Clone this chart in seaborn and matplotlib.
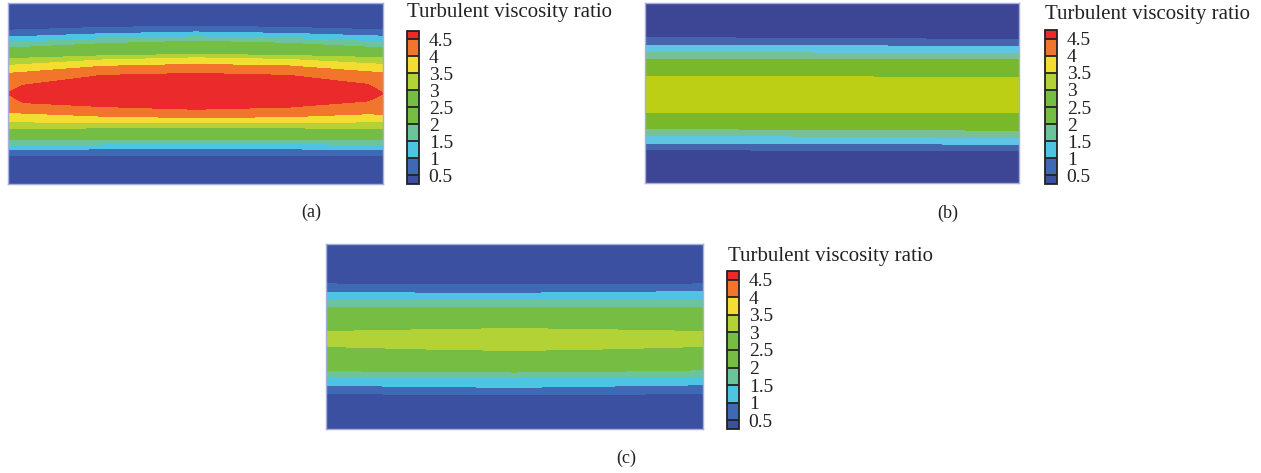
import numpy as np
import matplotlib
matplotlib.use("Agg")
import matplotlib.pyplot as plt
import seaborn as sns
from matplotlib.colors import ListedColormap, BoundaryNorm
from matplotlib.cm import ScalarMappable

sns.set_style("white")
plt.rcParams["font.family"] = ["Liberation Serif", "DejaVu Serif"]

# Legend levels of the turbulent viscosity ratio
levels = [0.5, 1.0, 1.5, 2.0, 2.5, 3.0, 3.5, 4.0, 4.5]
level_labels = ["0.5", "1", "1.5", "2", "2.5", "3", "3.5", "4", "4.5"]
legend_bounds = [0.25] + levels + [4.75]
fill_levels = [0.0] + levels + [5.0]

band_colors = sns.color_palette(["#3b50a0", "#3f69b5", "#4dc4e1", "#6cc49b", "#76bd43",
                                 "#76bd43", "#b2d236", "#f3dd30", "#f1762b", "#ea2a2b"])
band_colors_b = sns.color_palette(["#3d4595", "#4565ad", "#5cc6e3", "#78c194", "#78b82a",
                                   "#78b82a", "#bccf14", "#f3dd30", "#f1762b", "#ea2a2b"])

# ---- case (a): ratio values across the channel (top wall -> bottom wall)
profile_a = [0.2, 0.5, 1.0, 1.5, 2.0, 2.5, 3.0, 3.5, 4.0, 4.5, 4.8,
             4.5, 4.0, 3.5, 3.0, 2.5, 2.0, 1.5, 1.0, 0.5, 0.2]
stations_a = [0.0, 0.04, 0.25, 0.5, 0.75, 0.96, 1.0]
# depth (0 = top wall, 1 = bottom wall) of each profile value at each station
depth_a = [
    [0.000, 0.000, 0.000, 0.000, 0.000, 0.000, 0.000],
    [0.150, 0.148, 0.135, 0.128, 0.135, 0.146, 0.147],
    [0.187, 0.185, 0.170, 0.160, 0.168, 0.181, 0.183],
    [0.217, 0.215, 0.198, 0.187, 0.196, 0.212, 0.215],
    [0.248, 0.245, 0.225, 0.211, 0.223, 0.244, 0.248],
    [0.278, 0.275, 0.258, 0.248, 0.256, 0.272, 0.275],
    [0.308, 0.305, 0.292, 0.284, 0.290, 0.300, 0.303],
    [0.345, 0.340, 0.315, 0.303, 0.312, 0.335, 0.339],
    [0.389, 0.383, 0.350, 0.339, 0.348, 0.380, 0.385],
    [0.497, 0.455, 0.400, 0.389, 0.400, 0.450, 0.497],
    [0.500, 0.500, 0.490, 0.488, 0.490, 0.497, 0.500],
    [0.503, 0.550, 0.572, 0.587, 0.575, 0.541, 0.503],
    [0.606, 0.608, 0.625, 0.633, 0.628, 0.612, 0.615],
    [0.657, 0.657, 0.660, 0.661, 0.660, 0.657, 0.657],
    [0.694, 0.693, 0.690, 0.688, 0.690, 0.693, 0.694],
    [0.725, 0.724, 0.722, 0.720, 0.721, 0.723, 0.723],
    [0.756, 0.755, 0.753, 0.752, 0.752, 0.752, 0.752],
    [0.785, 0.784, 0.779, 0.776, 0.778, 0.780, 0.780],
    [0.811, 0.810, 0.806, 0.804, 0.806, 0.810, 0.811],
    [0.844, 0.843, 0.841, 0.840, 0.841, 0.843, 0.844],
    [1.000, 1.000, 1.000, 1.000, 1.000, 1.000, 1.000],
]

# ---- cases (b) and (c)
profile_bc = [0.2, 0.5, 1.0, 1.5, 2.0, 2.5, 3.0, 3.2, 3.0, 2.5, 2.0, 1.5, 1.0, 0.5, 0.2]

stations_b = [0.0, 0.5, 1.0]
depth_b = [
    [0.000, 0.000, 0.000],
    [0.193, 0.196, 0.204],
    [0.235, 0.238, 0.241],
    [0.276, 0.278, 0.281],
    [0.313, 0.314, 0.315],
    [0.360, 0.362, 0.365],
    [0.407, 0.410, 0.415],
    [0.506, 0.510, 0.513],
    [0.606, 0.610, 0.611],
    [0.652, 0.656, 0.659],
    [0.698, 0.702, 0.707],
    [0.735, 0.740, 0.748],
    [0.778, 0.781, 0.785],
    [0.815, 0.818, 0.822],
    [1.000, 1.000, 1.000],
]

stations_c = [0.0, 0.25, 0.5, 0.75, 1.0]
depth_c = [
    [0.000, 0.000, 0.000, 0.000, 0.000],
    [0.216, 0.218, 0.219, 0.218, 0.216],
    [0.263, 0.265, 0.266, 0.262, 0.257],
    [0.302, 0.302, 0.302, 0.300, 0.299],
    [0.344, 0.345, 0.345, 0.345, 0.344],
    [0.408, 0.403, 0.401, 0.403, 0.408],
    [0.473, 0.464, 0.457, 0.464, 0.473],
    [0.513, 0.515, 0.516, 0.515, 0.513],
    [0.554, 0.567, 0.576, 0.567, 0.554],
    [0.620, 0.626, 0.634, 0.626, 0.617],
    [0.685, 0.689, 0.692, 0.688, 0.680],
    [0.719, 0.719, 0.719, 0.718, 0.716],
    [0.764, 0.770, 0.775, 0.768, 0.761],
    [0.809, 0.812, 0.815, 0.812, 0.809],
    [1.000, 1.000, 1.000, 1.000, 1.000],
]

W, H = 1261, 473
fig = plt.figure(figsize=(W / 100, H / 100), dpi=100)


def px_axes(x0, y0, x1, y1):
    """Axes from pixel box (left, top, right, bottom)."""
    return fig.add_axes([x0 / W, 1 - y1 / H, (x1 - x0) / W, (y1 - y0) / H])


def draw_field(box, stations, depth, profile, colors):
    ax = px_axes(*box)
    depth = np.asarray(depth)
    X = np.tile(np.asarray(stations), (depth.shape[0], 1))
    Z = np.tile(np.asarray(profile)[:, None], (1, len(stations)))
    ax.contourf(X, depth, Z, levels=fill_levels, colors=colors, antialiased=False)
    ax.set_xlim(0, 1)
    ax.set_ylim(1, 0)
    ax.set_xticks([])
    ax.set_yticks([])
    for sp in ax.spines.values():
        sp.set_visible(True)
        sp.set_color("#a7aedb")
        sp.set_linewidth(1.0)
    return ax


def draw_legend(bar_box, title_xy):
    cax = px_axes(*bar_box)
    cmap = ListedColormap(band_colors)
    norm = BoundaryNorm(legend_bounds, cmap.N)
    cb = fig.colorbar(ScalarMappable(norm=norm, cmap=cmap), cax=cax,
                      boundaries=legend_bounds, spacing="proportional",
                      ticks=levels, drawedges=True)
    cb.ax.minorticks_off()
    cb.ax.set_yticklabels(level_labels, fontsize=14, color="#222222")
    cb.ax.tick_params(which="both", length=0, pad=7)
    cb.outline.set_edgecolor("#222222")
    cb.outline.set_linewidth(1.3)
    cb.dividers.set_color("#222222")
    cb.dividers.set_linewidth(1.3)
    fig.text(title_xy[0] / W, 1 - title_xy[1] / H, "Turbulent viscosity ratio",
             fontsize=15, color="#222222", ha="left", va="center")


# (a)
draw_field((8, 3, 383, 184), stations_a, depth_a, profile_a, band_colors)
draw_legend((407, 31, 419, 184), (407, 12))
fig.text(311 / W, 1 - 212 / H, "(a)", fontsize=13, ha="center", va="center", color="#222222")

# (b)
draw_field((645, 3, 1019, 183), stations_b, depth_b, profile_bc, band_colors_b)
draw_legend((1045, 30, 1057, 184), (1045, 15))
fig.text(948 / W, 1 - 213 / H, "(b)", fontsize=13, ha="center", va="center", color="#222222")

# (c)
draw_field((326, 244, 703, 429), stations_c, depth_c, profile_bc, band_colors)
draw_legend((727, 271, 739, 429), (728, 256))
fig.text(626 / W, 1 - 458 / H, "(c)", fontsize=13, ha="center", va="center", color="#222222")

fig.savefig("out.png", dpi=100, facecolor="white")
